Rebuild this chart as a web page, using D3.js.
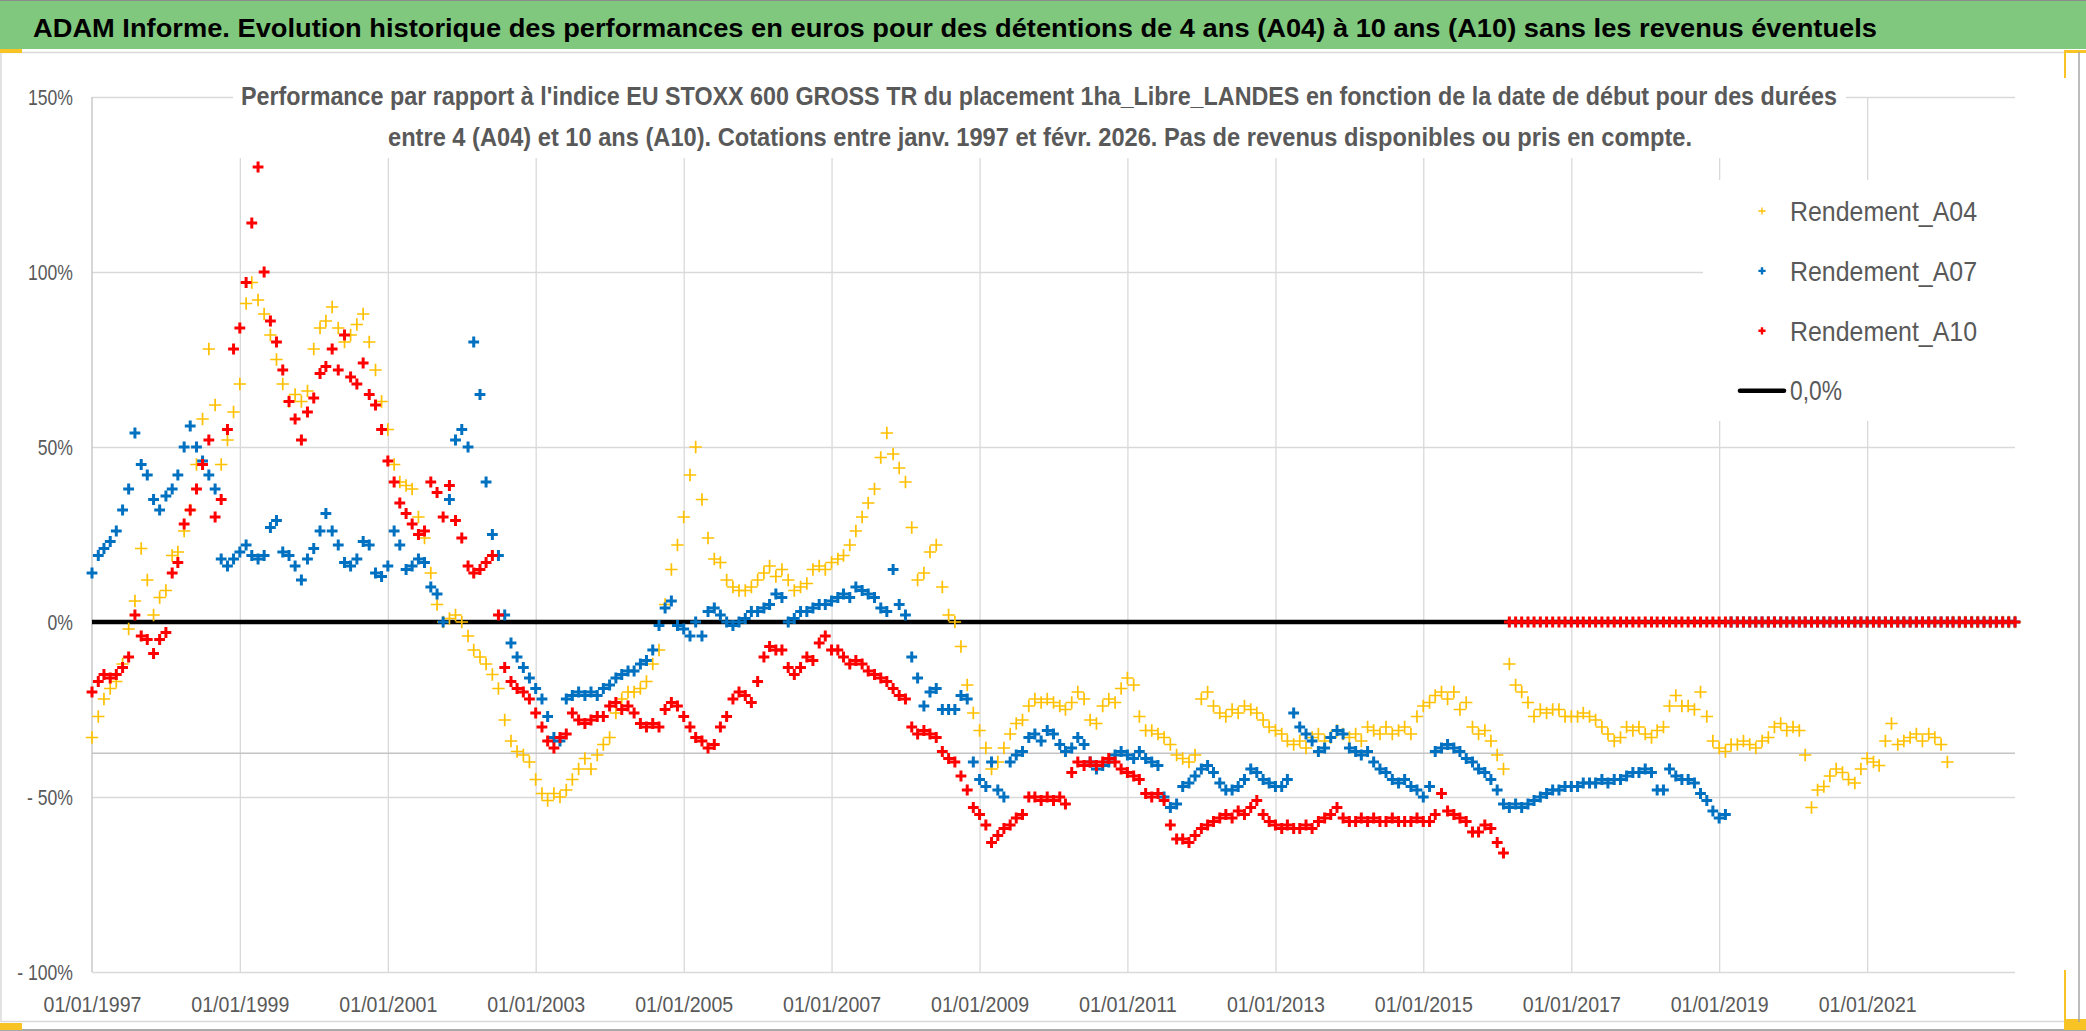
<!DOCTYPE html>
<html>
<head>
<meta charset="utf-8">
<script src="https://cdn.jsdelivr.net/npm/d3@7"></script>
<style>
    body { margin: 0; background: #ffffff; }
    svg { display: block; font-family: "Liberation Sans", Arial, sans-serif; }
    .grid line { stroke: #d9d9d9; stroke-width: 1.3; }
    .grid path { display: none; }
    .tick-labels path { display: none; }
    .tick-labels text { fill: #595959; font-size: 22px; }
</style>
</head>
<body>
<div id="chart-container"></div>
<script>
// ---- data ----
const chartTitle = "ADAM Informe. Evolution historique des performances en euros pour des détentions de 4 ans (A04) à 10 ans (A10) sans les revenus éventuels";
const subtitleLines = [
    "Performance par rapport à l'indice EU STOXX 600 GROSS TR  du placement 1ha_Libre_LANDES en fonction de la date de début pour des durées",
    "entre 4 (A04) et 10 ans (A10). Cotations entre janv. 1997 et févr. 2026. Pas de revenus disponibles ou pris en compte."
];

const xTickLabels = ["01/01/1997", "01/01/1999", "01/01/2001", "01/01/2003", "01/01/2005", "01/01/2007",
    "01/01/2009", "01/01/2011", "01/01/2013", "01/01/2015", "01/01/2017", "01/01/2019", "01/01/2021"];
const xDomainLabels = ["01/01/1997", "01/01/2023"];
const yTickValues = [-100, -50, 0, 50, 100, 150];

// one value per start month, from 01/1997
const firstStartDate = "01/01/1997";
const seriesNames = ["Rendement_A04", "Rendement_A07", "Rendement_A10"];
const seriesColors = ["#FFC000", "#0070C0", "#FF0000"];

const rendementA04 = [
    -33, -27, -22, -19, -17, -12, -2, 6, 21, 12, 2, 7,
    9, 19, 20, 26, 32, 45, 58, 78, 62, 45, 52, 60,
    68, 91, 97, 92, 88, 82, 75, 68, 63, 65, 63, 66,
    78, 84, 86, 90, 84, 80, 82, 85, 88, 80, 72, 63,
    55, 45, 40, 39, 38, 30, 24, 14, 5, 0, 1, 2,
    0, -4, -8, -10, -12, -15, -19, -28, -34, -37, -38, -40,
    -45, -49, -51, -49, -50, -48, -45, -42, -39, -42, -38, -35,
    -33, -26, -22, -20, -20, -19, -17, -12, -8, 5, 15, 22,
    30, 42, 50, 35, 24, 18, 17, 12, 10, 9, 9, 10,
    12, 14, 16, 13, 15, 12, 9, 10, 11, 15, 16, 15,
    17, 18, 19, 22, 26, 30, 34, 38, 47, 54, 48, 44,
    40, 27, 12, 14, 20, 22, 10, 2, 0, -7, -18, -26,
    -31, -36, -42, -40, -36, -32, -29, -28, -24, -22, -23, -22,
    -23, -24, -25, -23, -20, -22, -28, -29, -24, -22, -23, -19,
    -16, -18, -27, -31, -31, -32, -33, -35, -38, -39, -40, -38,
    -22, -20, -24, -26, -27, -25, -26, -24, -25, -26, -28, -30,
    -31, -32, -34, -35, -34, -36, -33, -32, -34, -33, -31, -32,
    -33, -32, -34, -30, -31, -32, -30, -32, -31, -30, -32, -27,
    -24, -23, -21, -20, -22, -20, -25, -23, -30, -32, -31, -34,
    -38, -42, -12, -18, -20, -23, -27, -25, -26, -25, -25, -27,
    -27, -27, -26, -27, -28, -30, -32, -34, -33, -30, -31, -30,
    -32, -33, -31, -30, -24, -21, -24, -24, -25, -20, -27, -34,
    -36, -37, -35, -35, -34, -35, -36, -34, -33, -30, -29, -31,
    -30, -31, -38, -53, -48, -47, -44, -42, -43, -45, -46, -42,
    -39, -40, -41, -34, -29, -35, -34, -33, -32, -34, -32, -33,
    -35, -40, 0, 0, 0, 0, 0, 0, 0, 0, 0, 0,
    0
];

const rendementA07 = [
    14, 19, 21, 23, 26, 32, 38, 54, 45, 42, 35, 32,
    36, 38, 42, 50, 56, 50, 46, 42, 38, 18, 16, 18,
    20, 22, 19, 18, 19, 27, 29, 20, 19, 16, 12, 18,
    21, 26, 31, 26, 22, 17, 16, 18, 23, 22, 14, 13,
    16, 26, 22, 15, 16, 18, 17, 10, 8, 0, 35, 52,
    55, 50, 80, 65, 40, 25, 19, 2, -6, -10, -13, -16,
    -19, -22, -27, -33, -34, -22, -21, -20, -21, -20, -21, -19,
    -18, -16, -15, -14, -14, -12, -11, -8, -1, 4, 6, -1,
    -2, -4, 0, -4, 3, 4, 2, 0, -1, 0, 1, 3,
    3, 4, 5, 8, 7, 0, 1, 3, 3, 4, 5, 5,
    6, 7, 8, 7, 10, 9, 8, 7, 4, 3, 15, 5,
    2, -10, -16, -24, -20, -19, -25, -25, -25, -21, -22, -40,
    -45, -47, -40, -48, -50, -40, -38, -37, -33, -32, -34, -31,
    -32, -35, -37, -36, -33, -35, -40, -42, -41, -40, -38, -37,
    -38, -39, -37, -39, -40, -41, -50, -53, -52, -47, -46, -44,
    -42, -41, -43, -46, -48, -48, -47, -45, -42, -43, -45, -46,
    -47, -47, -45, -26, -30, -32, -34, -37, -36, -33, -31, -32,
    -36, -37, -38, -37, -40, -42, -43, -45, -46, -45, -47, -48,
    -50, -47, -37, -36, -35, -36, -37, -39, -40, -42, -43, -45,
    -48, -52, -53, -52, -53, -52, -51, -50, -49, -48, -48, -47,
    -47, -47, -46, -46, -46, -45, -46, -45, -45, -44, -43, -43,
    -42, -43, -48, -48, -42, -44, -45, -45, -46, -49, -51, -54,
    -56, -55, 0, 0, 0, 0, 0, 0, 0, 0, 0, 0,
    0, 0, 0, 0, 0, 0, 0, 0, 0, 0, 0, 0,
    0, 0, 0, 0, 0, 0, 0, 0, 0, 0, 0, 0,
    0, 0, 0, 0, 0, 0, 0, 0, 0, 0, 0, 0,
    0
];

const rendementA10 = [
    -20, -17, -15, -16, -15, -13, -10, 2, -4, -5, -9, -5,
    -3, 14, 17, 28, 32, 38, 45, 52, 30, 35, 55, 78,
    84, 97, 114, 130, 100, 86, 80, 72, 63, 58, 52, 60,
    64, 71, 73, 78, 72, 82, 70, 68, 74, 65, 62, 55,
    46, 40, 34, 31, 28, 25, 26, 40, 37, 30, 39, 29,
    24, 16, 14, 15, 17, 19, 2, -13, -17, -19, -20, -22,
    -26, -30, -34, -36, -33, -32, -26, -28, -29, -28, -27, -27,
    -24, -23, -25, -24, -26, -29, -30, -29, -30, -25, -23, -24,
    -27, -30, -33, -34, -36, -35, -30, -27, -22, -20, -21, -23,
    -17, -10, -7, -8, -8, -13, -15, -13, -10, -11, -6, -4,
    -8, -8, -10, -12, -11, -12, -14, -15, -16, -17, -19, -21,
    -22, -30, -32, -31, -32, -33, -37, -39, -40, -44, -48, -53,
    -55, -58, -63, -61, -59, -58, -56, -55, -50, -50, -51, -50,
    -51, -50, -52, -43, -40, -41, -40, -41, -40, -39, -40, -42,
    -43, -44, -45, -49, -50, -49, -51, -58, -62, -62, -63, -61,
    -59, -58, -57, -56, -55, -56, -54, -55, -53, -51, -55, -57,
    -58, -59, -58, -59, -59, -58, -59, -57, -56, -55, -53, -56,
    -57, -57, -56, -57, -56, -57, -57, -56, -57, -57, -57, -56,
    -57, -57, -55, -49, -54, -55, -56, -57, -60, -60, -58, -59,
    -63, -66, 0, 0, 0, 0, 0, 0, 0, 0, 0, 0,
    0, 0, 0, 0, 0, 0, 0, 0, 0, 0, 0, 0,
    0, 0, 0, 0, 0, 0, 0, 0, 0, 0, 0, 0,
    0, 0, 0, 0, 0, 0, 0, 0, 0, 0, 0, 0,
    0, 0, 0, 0, 0, 0, 0, 0, 0, 0, 0, 0,
    0, 0, 0, 0, 0, 0, 0, 0, 0, 0, 0, 0,
    0, 0, 0, 0, 0, 0, 0, 0, 0, 0, 0, 0,
    0
];

const zeroLineValue = 0;
const zeroLineLabel = "0,0%";
const axisCrossValue = -37.5;   // horizontal axis line crosses the value axis here

class PerformanceChart {
    constructor(containerId, series, options = {}) {
        this.containerId = containerId;
        this.series = series;
        this.options = {
            width: options.width || 2086,
            height: options.height || 1031,
            left: options.left || 92,
            right: options.right || 2015,
            top: options.top || 97,
            bottom: options.bottom || 972
        };
        this.init();
    }

    init() {
        d3.select(`#${this.containerId}`).select('svg').remove();

        this.svg = d3.select(`#${this.containerId}`)
            .append('svg')
            .attr('width', this.options.width)
            .attr('height', this.options.height);

        const parse = d3.timeParse('%d/%m/%Y');
        this.parse = parse;
        this.x = d3.scaleTime()
            .domain(xDomainLabels.map(parse))
            .range([this.options.left, this.options.right]);
        this.y = d3.scaleLinear()
            .domain([d3.min(yTickValues), d3.max(yTickValues)])
            .range([this.options.bottom, this.options.top]);

        this.drawFrame();
        this.drawGrid();
        this.drawBoxes();
        this.drawSeries();
        this.drawAxes();
        this.drawTitles();
        this.drawLegend();
    }

    drawFrame() {
        const o = this.options;
        // green banner with the report title
        this.svg.append('rect')
            .attr('x', 0).attr('y', 0)
            .attr('width', o.width).attr('height', 49)
            .attr('fill', '#80C87E');
        this.svg.append('line')
            .attr('x1', 0).attr('x2', o.width).attr('y1', 0.5).attr('y2', 0.5)
            .attr('stroke', '#8c8c8c').attr('stroke-width', 1);

        // chart area border
        this.svg.append('rect')
            .attr('x', 1).attr('y', 52.5)
            .attr('width', 2078).attr('height', 969)
            .attr('fill', 'none')
            .attr('stroke', '#d9d9d9').attr('stroke-width', 1.5);
        this.svg.append('line')
            .attr('x1', 0).attr('x2', o.width).attr('y1', 1030).attr('y2', 1030)
            .attr('stroke', '#8c8c8c').attr('stroke-width', 1.5);

        // selection handles left by the spreadsheet
        const handles = [[0, 49, 22, 4], [2064, 50, 22, 28], [0, 1023, 22, 7], [2064, 970, 22, 60]];
        handles.forEach(h => {
            this.svg.append('rect')
                .attr('x', h[0]).attr('y', h[1])
                .attr('width', h[2]).attr('height', h[3])
                .attr('fill', '#F7C325');
        });
        this.svg.append('rect')
            .attr('x', 2066).attr('y', 53).attr('width', 20).attr('height', 966)
            .attr('fill', '#ffffff');
        this.svg.append('line')
            .attr('x1', 2079).attr('x2', 2079).attr('y1', 52).attr('y2', 1022)
            .attr('stroke', '#a6a6a6').attr('stroke-width', 1.5);
    }

    drawGrid() {
        const o = this.options;
        const xTicks = xTickLabels.map(this.parse);

        this.svg.append('g')
            .attr('class', 'grid')
            .attr('transform', `translate(0,${o.bottom})`)
            .call(d3.axisBottom(this.x)
                .tickValues(xTicks.slice(1))
                .tickSize(-(o.bottom - o.top))
                .tickFormat(''));

        this.svg.append('g')
            .attr('class', 'grid')
            .attr('transform', `translate(${o.left},0)`)
            .call(d3.axisLeft(this.y)
                .tickValues(yTickValues)
                .tickSize(-(o.right - o.left))
                .tickFormat(''));

        // value axis line and the category axis line
        this.svg.append('line')
            .attr('x1', o.left).attr('x2', o.left)
            .attr('y1', o.top).attr('y2', o.bottom)
            .attr('stroke', '#c8c8c8').attr('stroke-width', 1.5);
        this.svg.append('line')
            .attr('x1', o.left).attr('x2', o.right)
            .attr('y1', this.y(axisCrossValue)).attr('y2', this.y(axisCrossValue))
            .attr('stroke', '#c4c4c4').attr('stroke-width', 1.6);
    }

    drawBoxes() {
        // title and legend boxes hide the gridlines behind them
        this.svg.append('rect')
            .attr('x', 233).attr('y', 62).attr('width', 1613).attr('height', 96)
            .attr('fill', '#ffffff');
        this.svg.append('rect')
            .attr('x', 1703).attr('y', 180).attr('width', 312).attr('height', 241)
            .attr('fill', '#ffffff');
    }

    plusPath(s) {
        return `M${-s},0H${s}M0,${-s}V${s}`;
    }

    drawSeries() {
        const o = this.options;
        const start = this.parse(firstStartDate);

        // 0,0% reference line
        this.svg.append('line')
            .attr('x1', o.left).attr('x2', o.right)
            .attr('y1', this.y(zeroLineValue)).attr('y2', this.y(zeroLineValue))
            .attr('stroke', '#000000').attr('stroke-width', 4.6);

        const styles = [
            { size: 6.2, width: 1.7 },
            { size: 5.4, width: 3.0 },
            { size: 5.4, width: 3.0 }
        ];

        this.series.forEach((values, k) => {
            const points = values.map((v, i) => ({
                date: d3.timeMonth.offset(start, i),
                value: v
            }));
            this.svg.append('g')
                .attr('class', 'series')
                .selectAll('path')
                .data(points)
                .join('path')
                .attr('transform', d => `translate(${this.x(d.date)},${this.y(d.value)})`)
                .attr('d', this.plusPath(styles[k].size))
                .attr('fill', 'none')
                .attr('stroke', seriesColors[k])
                .attr('stroke-width', styles[k].width);
        });
    }

    drawAxes() {
        const o = this.options;
        const xTicks = xTickLabels.map(this.parse);

        const yAxis = this.svg.append('g')
            .attr('class', 'tick-labels')
            .attr('transform', `translate(${o.left},0)`)
            .call(d3.axisLeft(this.y)
                .tickValues(yTickValues)
                .tickSize(0)
                .tickPadding(19)
                .tickFormat(v => v < 0 ? `- ${-v}%` : `${v}%`));
        yAxis.selectAll('text').each(function () {
            const len = this.getComputedTextLength();
            d3.select(this)
                .attr('textLength', len * 0.8)
                .attr('lengthAdjust', 'spacingAndGlyphs');
        });

        const xAxis = this.svg.append('g')
            .attr('class', 'tick-labels')
            .attr('transform', `translate(0,${o.bottom})`)
            .call(d3.axisBottom(this.x)
                .tickValues(xTicks)
                .tickSize(0)
                .tickPadding(24)
                .tickFormat((d, i) => xTickLabels[i]));
        xAxis.selectAll('text')
            .attr('textLength', 98)
            .attr('lengthAdjust', 'spacingAndGlyphs');
    }

    drawTitles() {
        this.svg.append('text')
            .attr('x', 33).attr('y', 37)
            .attr('font-size', 26)
            .attr('font-weight', 'bold')
            .attr('fill', '#000000')
            .attr('textLength', 1844)
            .attr('lengthAdjust', 'spacingAndGlyphs')
            .text(chartTitle);

        const lines = [
            { x: 241, y: 105, len: 1596 },
            { x: 388, y: 146, len: 1304 }
        ];
        subtitleLines.forEach((t, i) => {
            this.svg.append('text')
                .attr('x', lines[i].x).attr('y', lines[i].y)
                .attr('font-size', 25)
                .attr('font-weight', 'bold')
                .attr('fill', '#595959')
                .attr('textLength', lines[i].len)
                .attr('lengthAdjust', 'spacingAndGlyphs')
                .text(t);
        });
    }

    drawLegend() {
        const legend = this.svg.append('g')
            .attr('class', 'legend')
            .attr('transform', 'translate(1762,211)');
        const rowStep = 59.9;
        const widths = [1.3, 2.4, 2.4];

        seriesNames.forEach((name, i) => {
            legend.append('path')
                .attr('transform', `translate(0,${i * rowStep})`)
                .attr('d', this.plusPath(3.6))
                .attr('fill', 'none')
                .attr('stroke', seriesColors[i])
                .attr('stroke-width', widths[i]);
            legend.append('text')
                .attr('x', 28).attr('y', i * rowStep + 10)
                .attr('font-size', 28)
                .attr('fill', '#595959')
                .attr('textLength', 187)
                .attr('lengthAdjust', 'spacingAndGlyphs')
                .text(name);
        });

        const ly = 3 * rowStep;
        legend.append('line')
            .attr('x1', -22).attr('x2', 22)
            .attr('y1', ly).attr('y2', ly)
            .attr('stroke', '#000000').attr('stroke-width', 4.6)
            .attr('stroke-linecap', 'round');
        legend.append('text')
            .attr('x', 28).attr('y', ly + 9)
            .attr('font-size', 28)
            .attr('fill', '#595959')
            .attr('textLength', 52)
            .attr('lengthAdjust', 'spacingAndGlyphs')
            .text(zeroLineLabel);
    }
}

const chart = new PerformanceChart('chart-container', [rendementA04, rendementA07, rendementA10], {
    width: 2086,
    height: 1031
});
</script>
</body>
</html>
